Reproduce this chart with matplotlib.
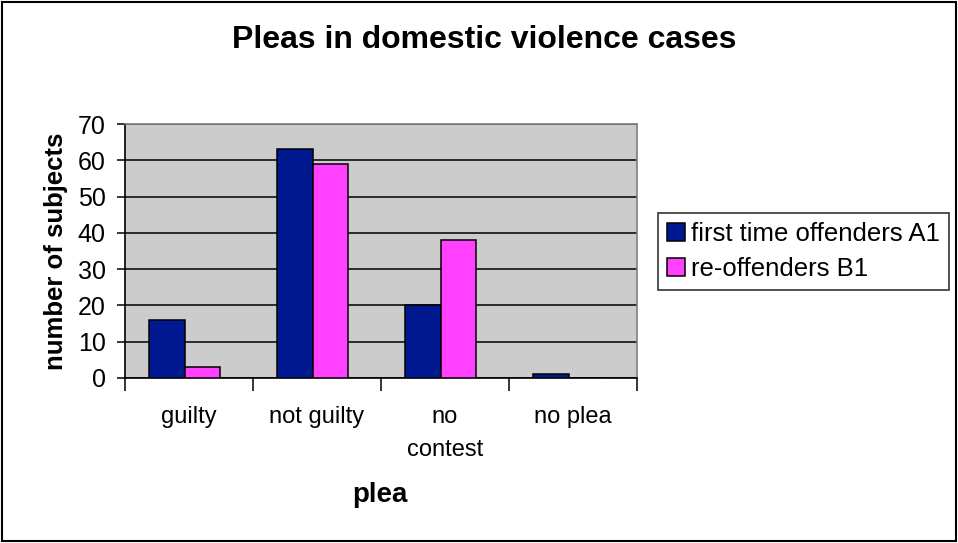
import matplotlib
matplotlib.use("Agg")
import matplotlib.pyplot as plt
import numpy as np

categories = ["guilty", "not guilty", "no\ncontest", "no plea"]
first_time = [16, 63, 20, 1]
re_offenders = [3, 59, 38, 0]
series_names = ["first time offenders A1", "re-offenders B1"]
yticks = [0, 10, 20, 30, 40, 50, 60, 70]

plt.rcParams['font.family'] = ['Liberation Sans', 'DejaVu Sans']

fig = plt.figure(figsize=(9.58, 5.43), dpi=100)
ax = fig.add_axes([0.1305, 0.3039, 0.5345, 0.4677])
ax.set_facecolor('#cccccc')

x = np.arange(len(categories))
w = 0.28
ax.bar(x - w/2 - 0.035, first_time, w, color='#001890', edgecolor='black', linewidth=1.1, label=series_names[0], zorder=3)
ax.bar(x + w/2 - 0.035, re_offenders, w, color='#ff40ff', edgecolor='black', linewidth=1.1, label=series_names[1], zorder=3)

ax.set_xlim(-0.5, 3.5)
ax.set_ylim(0, 70)
ax.set_yticks(yticks)
ax.set_yticklabels([str(v) for v in yticks], fontsize=18)
ax.yaxis.grid(True, color='black', linewidth=1.1, zorder=1)
ax.set_axisbelow(True)

ax.set_xticks(np.arange(-0.5, 4.0, 1.0))
ax.set_xticklabels([])
ax.set_xticks(x, minor=True)
ax.set_xticklabels(categories, minor=True, fontsize=17, linespacing=1.65)
ax.tick_params(axis='x', which='minor', length=0, pad=20)
ax.tick_params(axis='x', which='major', length=9, width=1.1, direction='out')
ax.tick_params(axis='y', length=6, width=1.1, direction='out', pad=8)
for lbl in ax.get_xticklabels(minor=True):
    lbl.set_verticalalignment('top')

for s in ['top', 'right']:
    ax.spines[s].set_color('#808080')
    ax.spines[s].set_linewidth(1.2)
for s in ['left', 'bottom']:
    ax.spines[s].set_color('black')
    ax.spines[s].set_linewidth(1.2)

ax.set_ylabel("number of subjects", fontsize=18.5, fontweight='bold', labelpad=7)
fig.text(0.397, 0.088, "plea", fontsize=20, fontweight='bold', ha='center', va='center')
fig.text(0.505, 0.926, "Pleas in domestic violence cases", fontsize=23, fontweight='bold', ha='center', va='center')

leg = ax.legend(loc='center left', bbox_to_anchor=(1.041, 0.498), fontsize=18.5, frameon=True,
                fancybox=False, edgecolor='black', handlelength=0.7, handleheight=0.7,
                handletextpad=0.25, borderpad=0.35, labelspacing=0.45, borderaxespad=0)
leg.get_frame().set_linewidth(1.2)

border = plt.Rectangle((0.002, 0.003), 0.996, 0.994, transform=fig.transFigure, fill=False,
                       edgecolor='black', linewidth=1.5)
fig.patches.append(border)

fig.savefig("out.png", dpi=100)
